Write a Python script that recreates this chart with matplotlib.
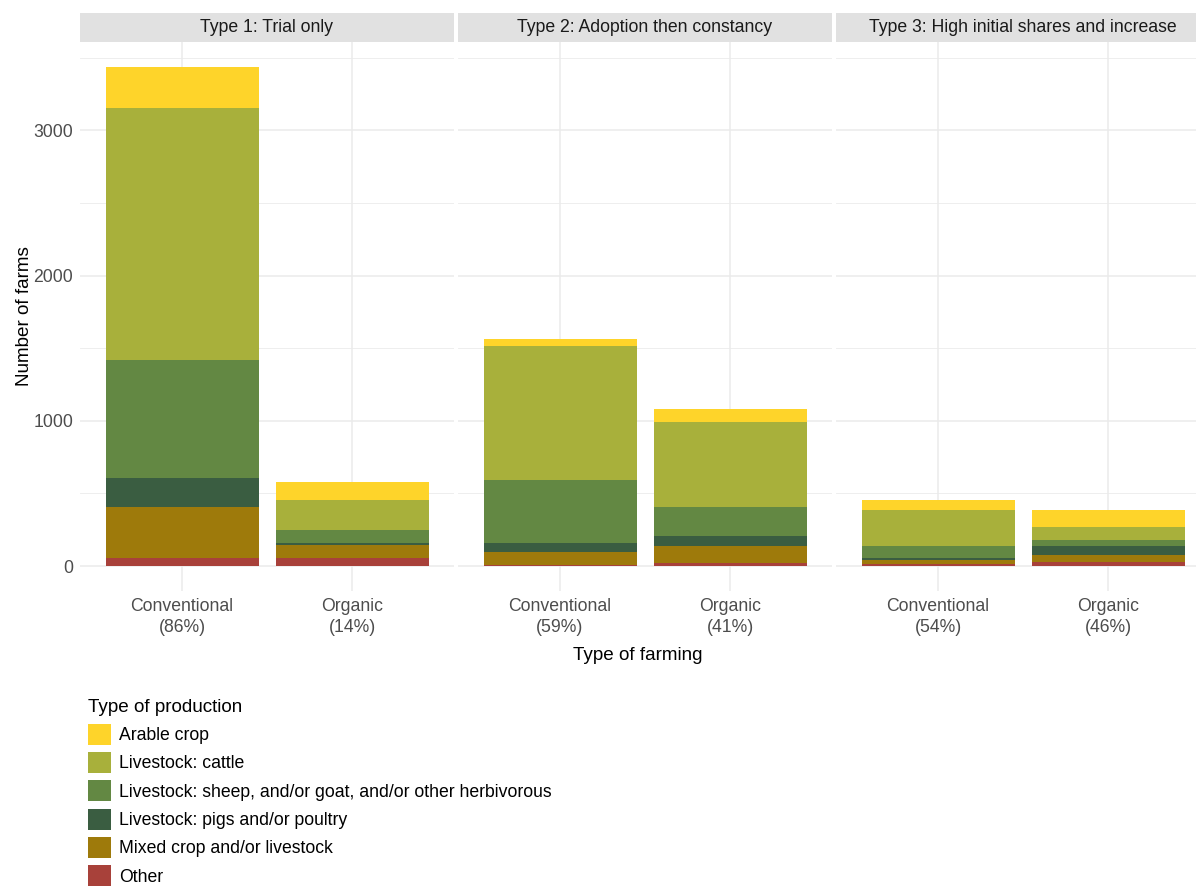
import matplotlib.pyplot as plt
from matplotlib.patches import Patch

plt.rcParams['font.family'] = ['Liberation Sans', 'DejaVu Sans']

facets = ['Type 1: Trial only', 'Type 2: Adoption then constancy',
          'Type 3: High initial shares and increase']
farming = ['Conventional', 'Organic']
shares = [['86%', '14%'], ['59%', '41%'], ['54%', '46%']]

# stack order bottom -> top
productions = ['Other', 'Mixed crop and/or livestock',
               'Livestock: pigs and/or poultry',
               'Livestock: sheep, and/or goat, and/or other herbivorous',
               'Livestock: cattle', 'Arable crop']
prod_colors = ['#A8413A', '#9E7A0B', '#3A5D41', '#638843', '#A8B03B', '#FED42A']

# values per facet: [conventional, organic]
other = [[57, 57], [7, 18], [14, 27]]
mixed = [[348, 87], [89, 119], [27, 49]]
pigs = [[200, 14], [62, 69], [14, 61]]
sheep = [[811, 89], [433, 202], [82, 42]]
cattle = [[1739, 207], [923, 584], [248, 89]]
arable = [[281, 123], [51, 92], [69, 117]]
series = [other, mixed, pigs, sheep, cattle, arable]

W, H = 1196, 886
fig = plt.figure(figsize=(W / 100, H / 100), dpi=100)

grid_col = '#EBEBEB'
txt_col = '#4D4D4D'
fs = 12.7

panel_left = [80, 458, 836]
panel_w = 374
top, bottom = 42, 591
ymax = 3436 * 1.05
ymin = -3436 * 0.05

for k in range(3):
    left = panel_left[k]
    w = min(panel_w, W - left)
    ax = fig.add_axes([left / W, 1 - bottom / H, w / W, (bottom - top) / H])
    xs = [1, 2]
    base = [0, 0]
    for s, col in zip(series, prod_colors):
        vals = s[k]
        ax.bar(xs, vals, width=0.9, bottom=base, color=col, linewidth=0, zorder=3)
        base = [b + v for b, v in zip(base, vals)]
    ax.set_xlim(0.4, 0.4 + 2.2 * w / panel_w)
    ax.set_ylim(ymin, ymax)
    ax.set_xticks(xs)
    ax.set_xticklabels([f'{f}\n({p})' for f, p in zip(farming, shares[k])],
                       fontsize=fs, color=txt_col, linespacing=1.35)
    ax.set_yticks([0, 1000, 2000, 3000])
    ax.set_yticks([500, 1500, 2500, 3500], minor=True)
    if k == 0:
        ax.set_yticklabels(['0', '1000', '2000', '3000'], fontsize=fs, color=txt_col)
        ax.set_ylabel('Number of farms', fontsize=13.6, labelpad=0)
    else:
        ax.set_yticklabels([])
    ax.tick_params(axis='both', which='both', length=0)
    ax.tick_params(axis='x', pad=5)
    ax.tick_params(axis='y', pad=5)
    ax.grid(True, which='major', color=grid_col, linewidth=1.1, zorder=0)
    ax.grid(True, which='minor', axis='y', color=grid_col, linewidth=0.6, zorder=0)
    for sp in ax.spines.values():
        sp.set_visible(False)

    # facet strip
    sax = fig.add_axes([left / W, 1 - top / H, w / W, 29 / H])
    sax.set_facecolor('#E1E1E1')
    sax.set_xticks([])
    sax.set_yticks([])
    for sp in sax.spines.values():
        sp.set_visible(False)
    sax.text(panel_w / w * 0.5, 0.5, facets[k], transform=sax.transAxes,
             ha='center', va='center', fontsize=fs, color='#1A1A1A')
    sax.set_xlim(0, 1)

fig.text(638 / W, 1 - 655 / H, 'Type of farming', ha='center', va='center',
         fontsize=13.6)

handles = [Patch(facecolor=c, edgecolor='none') for c in prod_colors[::-1]]
leg = fig.legend(handles, productions[::-1], loc='upper left',
                 bbox_to_anchor=(83 / W, 1 - 694 / H), frameon=False,
                 title='Type of production', title_fontsize=13.6, fontsize=fs,
                 alignment='left', handlelength=1.28, handleheight=1.45,
                 labelspacing=0.42, handletextpad=0.45, borderaxespad=0,
                 borderpad=0.3)

fig.savefig('out.png', dpi=100)
